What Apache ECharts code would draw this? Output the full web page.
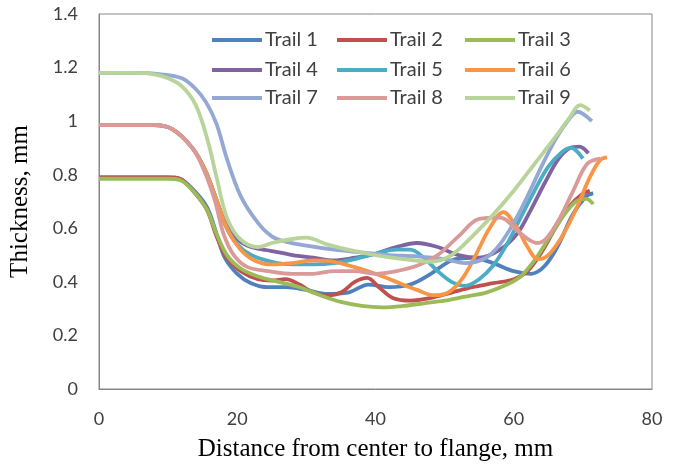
<!DOCTYPE html>
<html>
<head>
<meta charset="utf-8">
<script src="https://cdn.jsdelivr.net/npm/echarts@6/dist/echarts.min.js"></script>
<style>
  html, body { margin: 0; padding: 0; background: #ffffff; }
  #chart { width: 677px; height: 468px; }
</style>
</head>
<body>
<div id="chart"></div>
<script>
// Thickness profiles, [distance mm, thickness mm]
const trail1 = [[0,0.79],[5,0.79],[10,0.79],[11.7,0.785],[13.6,0.745],[15.6,0.68],[17,0.58],[18.2,0.49],[20,0.43],[22,0.395],[24.5,0.38],[27,0.38],[30,0.37],[33,0.355],[36,0.36],[39,0.39],[42,0.38],[45,0.39],[48,0.43],[51,0.48],[54,0.49],[57,0.47],[60,0.44],[62.5,0.43],[64.5,0.46],[66.5,0.54],[68.5,0.65],[70.5,0.72],[71.5,0.73]];
const trail2 = [[0,0.79],[5,0.79],[10,0.79],[11.7,0.785],[13.6,0.74],[15.6,0.67],[17,0.57],[18.5,0.49],[20.5,0.44],[23,0.41],[25,0.405],[27,0.41],[29,0.39],[31,0.36],[33,0.35],[35,0.36],[37,0.4],[38.8,0.415],[40.5,0.38],[42.5,0.34],[45,0.33],[48,0.34],[51,0.36],[54,0.38],[57,0.395],[60,0.41],[62,0.44],[64,0.51],[66,0.6],[68,0.68],[70,0.73],[71,0.74]];
const trail3 = [[0,0.785],[5,0.785],[10,0.785],[11.7,0.78],[13.6,0.74],[15.6,0.67],[17,0.58],[18.5,0.5],[20.5,0.45],[23,0.42],[26,0.4],[29,0.38],[32,0.35],[35,0.325],[38,0.31],[41,0.305],[44,0.31],[47,0.32],[50,0.33],[53,0.345],[56,0.36],[59,0.39],[61,0.42],[63,0.48],[65,0.56],[67,0.64],[69,0.7],[70.5,0.71],[71.5,0.69]];
const trail4 = [[0,0.985],[5,0.985],[8,0.985],[10.6,0.97],[13.5,0.9],[15.3,0.82],[16.8,0.72],[18.3,0.62],[20,0.56],[22,0.53],[25,0.515],[28,0.5],[31,0.49],[34,0.48],[37,0.49],[40,0.505],[43,0.53],[46,0.545],[49,0.53],[52,0.5],[55,0.49],[58,0.52],[60.5,0.58],[62.5,0.67],[64.5,0.77],[66.5,0.86],[68.2,0.9],[69.5,0.905],[70.8,0.88]];
const trail5 = [[0,0.985],[5,0.985],[8,0.985],[10.6,0.97],[13.5,0.9],[15.3,0.82],[16.8,0.72],[18.3,0.61],[20,0.54],[22,0.5],[25,0.475],[28,0.465],[31,0.465],[34,0.47],[37,0.485],[40,0.505],[43,0.52],[45,0.52],[47,0.49],[49,0.44],[51,0.4],[53,0.385],[55,0.41],[57,0.46],[59,0.54],[61,0.64],[63,0.74],[65,0.83],[67,0.885],[68.3,0.9],[70,0.86]];
const trail6 = [[0,0.985],[5,0.985],[8,0.985],[10.6,0.97],[13.5,0.9],[15.3,0.82],[16.8,0.72],[18.5,0.6],[20.5,0.52],[22.5,0.48],[25,0.465],[28,0.47],[31,0.48],[34,0.475],[37,0.455],[40,0.43],[43,0.4],[46,0.37],[48.5,0.35],[50.5,0.36],[52.5,0.41],[54.5,0.5],[56.5,0.6],[58.5,0.66],[60.5,0.6],[62,0.53],[63.5,0.485],[65,0.5],[67,0.57],[69,0.67],[71,0.79],[72.5,0.855],[73.5,0.865]];
const trail7 = [[0,1.18],[5,1.18],[9,1.175],[12,1.16],[14,1.12],[15.5,1.07],[17,0.99],[18.5,0.86],[20.5,0.72],[23,0.62],[25,0.57],[27,0.55],[30,0.535],[34,0.52],[38,0.51],[42,0.5],[46,0.495],[50,0.485],[53,0.47],[56,0.49],[58,0.54],[60,0.62],[62,0.72],[64,0.83],[66,0.93],[67.8,1.0],[69.2,1.035],[71.3,1.0]];
const trail8 = [[0,0.985],[5,0.985],[8,0.985],[10.6,0.97],[13.5,0.9],[15.3,0.81],[16.8,0.7],[18,0.58],[19.5,0.5],[21.5,0.455],[24.5,0.44],[28,0.43],[31,0.43],[34,0.44],[37,0.44],[40,0.43],[43,0.44],[46,0.46],[49,0.5],[52,0.57],[55,0.635],[58,0.64],[61,0.58],[63.4,0.545],[64.8,0.565],[66.7,0.64],[68.6,0.74],[70.6,0.84],[72.5,0.86]];
const trail9 = [[0,1.18],[5,1.18],[8,1.175],[10,1.16],[12,1.13],[14,1.06],[15.7,0.93],[17.1,0.78],[18.5,0.64],[20.4,0.56],[23,0.53],[25,0.545],[28,0.56],[30,0.565],[33,0.54],[36,0.52],[40,0.5],[44,0.485],[48,0.475],[51,0.5],[54,0.57],[57,0.65],[60,0.74],[63,0.84],[66,0.94],[68,1.01],[69.6,1.06],[71,1.04]];

const seriesNames = ['Trail 1','Trail 2','Trail 3','Trail 4','Trail 5','Trail 6','Trail 7','Trail 8','Trail 9'];
const seriesData = [trail1, trail2, trail3, trail4, trail5, trail6, trail7, trail8, trail9];
const seriesColors = ['#4F81BD','#C0504D','#9BBB59','#8064A2','#4BACC6','#F79646','#93A9D4','#DA9A98','#B9D49A'];

// legend laid out as a 3 x 3 block
const legendCols = [212, 337, 465];
const legendRows = [30, 60, 88];

const legends = seriesNames.map((name, i) => ({
  data: [name],
  left: legendCols[i % 3],
  top: legendRows[Math.floor(i / 3)],
  padding: 0,
  icon: 'rect',
  itemWidth: 50,
  itemHeight: 4,
  itemGap: 0,
  selectedMode: false,
  textStyle: { fontFamily: 'Lato', fontSize: 20, color: '#404040', padding: [0, 0, 0, -2] }
}));

const chart = echarts.init(document.getElementById('chart'), null, { renderer: 'canvas' });
chart.setOption({
  animation: false,
  backgroundColor: '#ffffff',
  legend: legends,
  grid: {
    left: 99, right: 25, top: 14, bottom: 79,
    show: true, borderColor: '#868686', borderWidth: 1
  },
  xAxis: {
    type: 'value', min: 0, max: 80, interval: 20,
    name: 'Distance from center to flange, mm',
    nameLocation: 'middle', nameGap: 48,
    nameTextStyle: { fontFamily: 'Liberation Serif', fontSize: 25, color: '#000' },
    axisLine: { show: true, lineStyle: { color: '#868686' } },
    axisTick: { show: false },
    splitLine: { show: false },
    axisLabel: { margin: 21, fontFamily: 'Lato', fontSize: 18, color: '#404040' }
  },
  yAxis: {
    type: 'value', min: 0, max: 1.4, interval: 0.2,
    name: 'Thickness, mm',
    nameLocation: 'middle', nameGap: 66,
    nameTextStyle: { fontFamily: 'Liberation Serif', fontSize: 25, color: '#000' },
    axisLine: { show: true, lineStyle: { color: '#868686' } },
    axisTick: { show: false },
    splitLine: { show: false },
    axisLabel: { margin: 21, fontFamily: 'Lato', fontSize: 18, color: '#404040' }
  },
  series: seriesNames.map((name, i) => ({
    name: name,
    type: 'line',
    data: seriesData[i],
    smooth: 0.35,
    symbol: 'none',
    lineStyle: { width: 3.8, color: seriesColors[i] },
    itemStyle: { color: seriesColors[i] }
  }))
});
</script>
</body>
</html>
